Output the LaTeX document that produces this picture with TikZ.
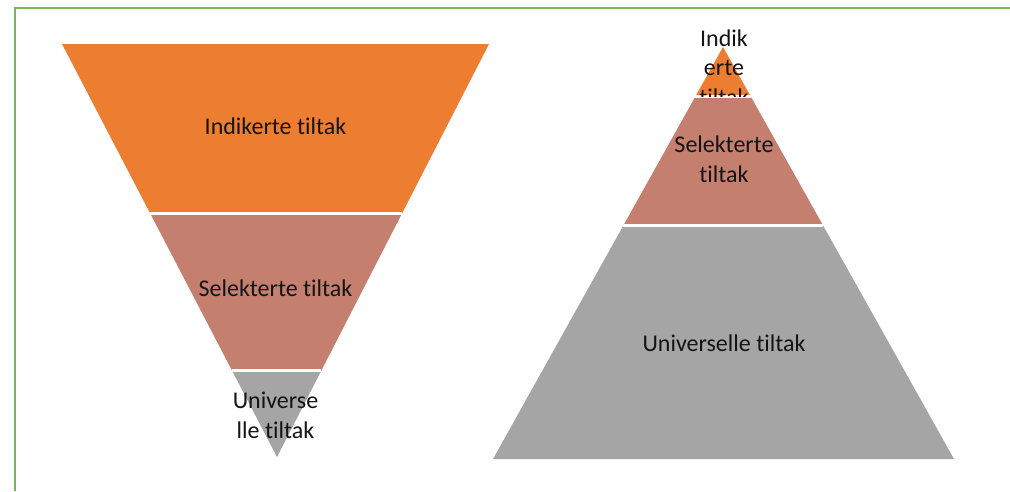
\documentclass[tikz,border=0pt]{standalone}
\usepackage{fontspec}
\setmainfont[Ligatures={NoCommon}]{Carlito}
\usetikzlibrary{positioning,calc}
\definecolor{tiltakorange}{HTML}{ED7D31}
\definecolor{tiltakrose}{HTML}{C47F6F}
\definecolor{tiltakgrey}{HTML}{A5A5A5}
\definecolor{framegreen}{HTML}{7AB55C}

\begin{document}
\begin{tikzpicture}[x=1pt, y=-1pt,
    gap/.style={draw=white, line width=2.5pt},
    tiltaktext/.style={font=\fontsize{24}{29.5}\selectfont, text=black!92, align=center, inner sep=0pt, anchor=base}]

    \useasboundingbox (0,0) rectangle (1010,491);

    % frame
    \coordinate (fb) at (15,491);
    \coordinate (fc) at (15,8);
    \coordinate (fr) at (1010,8);
    \draw[framegreen, line width=2pt] (fb) -- (fc) -- (fr);

    % funnel
    \coordinate (tl) at (62,44);
    \coordinate (tr) at (489,44);
    \coordinate (tb) at (277,457);
    \coordinate (l1) at ($(tl)!0.4104!(tb)$);
    \coordinate (r1) at ($(tr)!0.4104!(tb)$);
    \coordinate (l2) at ($(tl)!0.7906!(tb)$);
    \coordinate (r2) at ($(tr)!0.7906!(tb)$);

    \fill[tiltakorange] (tl) -- (tr) -- (r1) -- (l1) -- cycle;
    \fill[tiltakrose] (l1) -- (r1) -- (r2) -- (l2) -- cycle;
    \fill[tiltakgrey] (l2) -- (r2) -- (tb) -- cycle;
    \draw[gap] (l1) -- (r1);
    \draw[gap] (l2) -- (r2);

    \node[tiltaktext] (ind) at (275.5,134) {Indikerte tiltak};
    \node[tiltaktext] (sel) at (275.5,296) {Selekterte tiltak};
    \node[tiltaktext] (uni) at (275.5,438) {Universe\\lle tiltak};

    % pyramid
    \coordinate (pt) at (723,47);
    \coordinate (pl) at (493,459);
    \coordinate (pr) at (954,459);
    \coordinate (pl1) at ($(pt)!0.1201!(pl)$);
    \coordinate (pr1) at ($(pt)!0.1201!(pr)$);
    \coordinate (pl2) at ($(pt)!0.4333!(pl)$);
    \coordinate (pr2) at ($(pt)!0.4333!(pr)$);

    \fill[tiltakorange] (pt) -- (pr1) -- (pl1) -- cycle;
    \fill[tiltakrose] (pl1) -- (pr1) -- (pr2) -- (pl2) -- cycle;
    \fill[tiltakgrey] (pl2) -- (pr2) -- (pr) -- (pl) -- cycle;
    \draw[gap] (pl1) -- (pr1);
    \draw[gap] (pl2) -- (pr2);

    \begin{scope}
        \clip (pl1 -| fc) rectangle (fr);
        \node[tiltaktext] (ind2) at (724,105) {Indik\\erte\\tiltak};
    \end{scope}
    \node[tiltaktext] (sel2) at (724,182) {Selekterte\\tiltak};
    \node[tiltaktext] (uni2) at (724,351) {Universelle tiltak};

\end{tikzpicture}
\end{document}
